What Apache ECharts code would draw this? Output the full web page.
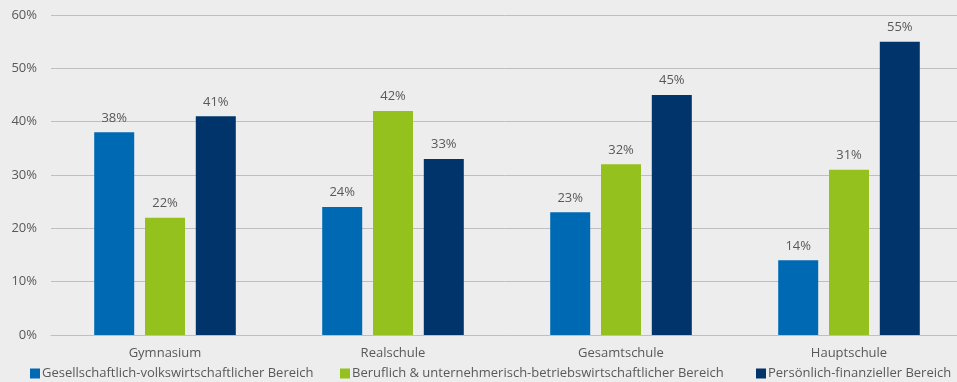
<!DOCTYPE html>
<html>
<head>
<meta charset="utf-8">
<script src="https://cdn.jsdelivr.net/npm/echarts@6/dist/echarts.min.js"></script>
<style>
  html, body { margin: 0; padding: 0; background: #ededed; }
  #chart { width: 957px; height: 382px; }
</style>
</head>
<body>
<div id="chart"></div>
<script>
// School types and the share of each financial-education area
const categories = ['Gymnasium', 'Realschule', 'Gesamtschule', 'Hauptschule'];
const seriesNames = [
  'Gesellschaftlich-volkswirtschaftlicher Bereich',
  'Beruflich & unternehmerisch-betriebswirtschaftlicher Bereich',
  'Persönlich-finanzieller Bereich'
];
const gesellschaftlich = [38, 24, 23, 14];
const beruflich = [22, 42, 32, 31];
const persoenlich = [41, 33, 45, 55];
const yTicks = [0, 10, 20, 30, 40, 50, 60];

const colors = ['#0069b4', '#95c11f', '#00346b'];
const fontFamily = '"Open Sans", "Noto Sans", sans-serif';
const textColor = '#595959';

const values = [gesellschaftlich, beruflich, persoenlich];

// one legend entry per series, placed side by side along the bottom
const legendLefts = [25, 335, 751];
const legends = seriesNames.map((name, i) => ({
  left: legendLefts[i],
  top: 362,
  itemWidth: 10,
  itemHeight: 10,
  icon: 'rect',
  textStyle: { color: textColor, fontSize: 13, fontFamily: fontFamily, padding: [0, 0, 0, -3] },
  data: [name]
}));

const chart = echarts.init(document.getElementById('chart'), null, { renderer: 'canvas' });
chart.setOption({
  backgroundColor: '#ededed',
  animation: false,
  color: colors,
  textStyle: { fontFamily: fontFamily },
  grid: { left: 51, top: 15, width: 912, bottom: 47, containLabel: false, outerBoundsMode: 'none' },
  legend: legends,
  xAxis: {
    type: 'category',
    data: categories,
    axisLine: { lineStyle: { color: '#bfbfbf', width: 1 } },
    axisTick: { show: false },
    axisLabel: { color: textColor, fontSize: 13, margin: 12, fontFamily: fontFamily }
  },
  yAxis: {
    type: 'value',
    min: yTicks[0],
    max: yTicks[yTicks.length - 1],
    interval: 10,
    axisLine: { show: false },
    axisTick: { show: false },
    splitLine: { lineStyle: { color: '#bfbfbf', width: 1 } },
    axisLabel: { color: textColor, fontSize: 13, margin: 14, fontFamily: fontFamily, formatter: '{value}%' }
  },
  series: seriesNames.map((name, i) => ({
    name: name,
    type: 'bar',
    data: values[i],
    barWidth: 40,
    barGap: '27%',
    itemStyle: { color: colors[i] },
    label: {
      show: true,
      position: 'top',
      distance: 8,
      color: textColor,
      fontSize: 13,
      fontFamily: fontFamily,
      formatter: '{c}%'
    }
  }))
});
</script>
</body>
</html>
